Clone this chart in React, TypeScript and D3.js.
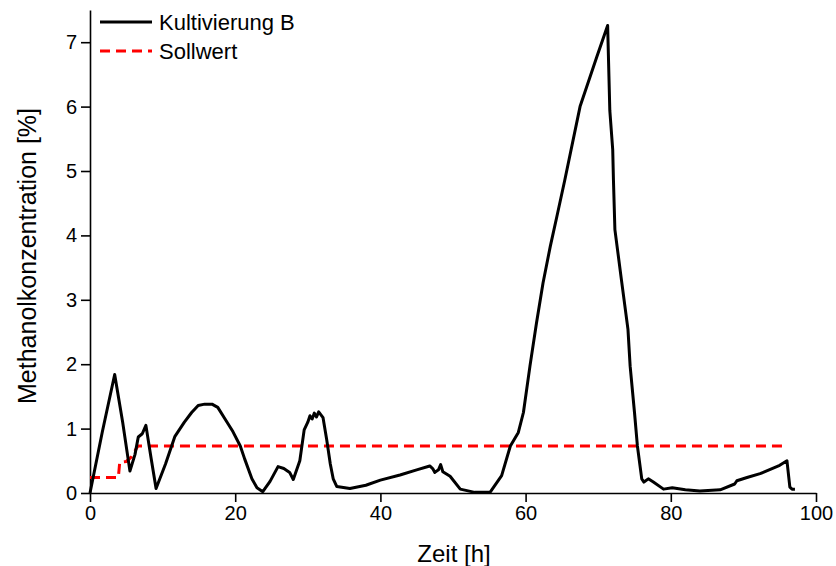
import React, { useEffect, useRef } from 'react';
import * as d3 from 'd3';

// Kultivierung B (time in h, methanol %)
const timeB = [0, 1.7, 3.4, 4.5, 5.5, 6.2, 6.65, 7.2, 7.7, 8.4, 9.1, 10.4, 11.7, 13.0, 14.0, 14.9, 15.8, 16.8, 17.6,
  18.6, 19.7, 20.7, 21.3, 22.3, 23.0, 23.8, 24.8, 25.9, 26.7, 27.5, 28.0, 28.9, 29.5, 30.0, 30.3, 30.6, 30.9,
  31.2, 31.5, 32.1, 32.6, 33.1, 33.5, 34.0, 35.8, 38.0, 40.0, 42.7, 45.0, 46.8, 47.2, 47.5, 48.0, 48.3,
  48.6, 49.6, 51.0, 53.0, 55.1, 56.7, 57.9, 59.0, 59.7, 60.6, 61.5, 62.4, 63.4, 64.3, 65.4, 67.5, 69.8,
  71.3, 71.6, 72.0, 72.1, 72.3, 73.2, 74.1, 74.4, 75.0, 75.4, 76.0, 76.3, 76.9, 77.6, 79.0, 80.2, 82.0,
  84.0, 86.8, 88.8, 89.1, 90.5, 92.3, 95.0, 96.0, 96.4, 96.7, 97.1];
const valueB = [0, 0.95, 1.84, 1.1, 0.34, 0.6, 0.87, 0.92, 1.05, 0.55, 0.07, 0.45, 0.88, 1.1, 1.25, 1.36, 1.38, 1.38, 1.33,
  1.15, 0.95, 0.73, 0.53, 0.22, 0.08, 0.02, 0.18, 0.41, 0.38, 0.32, 0.21, 0.5, 0.98, 1.1, 1.2, 1.15, 1.24,
  1.18, 1.26, 1.17, 0.83, 0.45, 0.22, 0.1, 0.07, 0.12, 0.2, 0.28, 0.36, 0.42, 0.38, 0.32, 0.36, 0.44,
  0.33, 0.26, 0.06, 0.01, 0.01, 0.27, 0.73, 0.94, 1.25, 1.97, 2.64, 3.26, 3.83, 4.29, 4.86, 6.0, 6.77,
  7.26, 5.94, 5.33, 4.86, 4.09, 3.31, 2.54, 1.97, 1.25, 0.73, 0.22, 0.17, 0.22, 0.17, 0.06, 0.08, 0.05,
  0.03, 0.05, 0.14, 0.19, 0.24, 0.3, 0.43, 0.5, 0.09, 0.06, 0.06];

// Sollwert
const timeSoll = [0, 3.9, 4.1, 5.0, 5.7, 6.6, 96.1];
const valueSoll = [0.24, 0.24, 0.48, 0.49, 0.56, 0.73, 0.73];

const xTicks = [0, 20, 40, 60, 80, 100];
const yTicks = [0, 1, 2, 3, 4, 5, 6, 7];
const seriesNames = ['Kultivierung B', 'Sollwert'];

const W = 836;
const H = 566;
const margin = { left: 90, right: 20, top: 10, bottom: 73 };
const font = 'Liberation Sans, Arial, sans-serif';

export default function App() {
  const svgRef = useRef<SVGSVGElement | null>(null);

  useEffect(() => {
    const svg = d3.select(svgRef.current);
    svg.selectAll('*').remove();

    const x = d3.scaleLinear().domain([0, 100]).range([margin.left, 816]);
    const y = d3.scaleLinear().domain([0, 7.5]).range([H - margin.bottom, margin.top]);

    // axes
    const xAxis = svg.append('g').attr('transform', `translate(0,${H - margin.bottom})`);
    xAxis.call(d3.axisBottom(x).tickValues(d3.range(10, 100, 20)).tickSize(5).tickFormat(() => ''));
    xAxis.call(d3.axisBottom(x).tickValues(xTicks).tickSize(9).tickSizeOuter(0).tickPadding(4).tickFormat(d3.format('d')));
    const yAxis = svg.append('g').attr('transform', `translate(${margin.left},0)`);
    yAxis.call(d3.axisLeft(y).tickValues(d3.range(0.5, 7.5, 1)).tickSize(5).tickFormat(() => ''));
    yAxis.call(d3.axisLeft(y).tickValues(yTicks).tickSize(9).tickSizeOuter(0).tickPadding(4).tickFormat(d3.format('d')));

    svg.selectAll('.domain').attr('stroke', '#000').attr('stroke-width', 1.6);
    svg.selectAll('.tick line').attr('stroke', '#000').attr('stroke-width', 1.6);
    svg.selectAll('.tick text').attr('font-family', font).attr('font-size', 20).attr('fill', '#000');

    // axis titles
    svg.append('text')
      .attr('x', 454).attr('y', 562)
      .attr('text-anchor', 'middle').attr('font-family', font).attr('font-size', 24)
      .text('Zeit [h]');
    svg.append('text')
      .attr('transform', `translate(36,256) rotate(-90)`)
      .attr('text-anchor', 'middle').attr('font-family', font).attr('font-size', 25)
      .text('Methanolkonzentration [%]');

    const line = d3.line<number>().x((d, i) => x(d)).curve(d3.curveLinear);

    // Sollwert
    svg.append('path')
      .attr('d', d3.line<number>().x(d => x(d)).y((d, i) => y(valueSoll[i]))(timeSoll))
      .attr('fill', 'none').attr('stroke', '#ff0000').attr('stroke-width', 3)
      .attr('stroke-dasharray', '10,6');

    // Kultivierung B
    svg.append('path')
      .attr('d', line.y((d, i) => y(valueB[i]))(timeB))
      .attr('fill', 'none').attr('stroke', '#000').attr('stroke-width', 3)
      .attr('stroke-linejoin', 'round');

    // legend
    const legend = svg.append('g');
    seriesNames.forEach((name, i) => {
      const ly = 22 + i * 29;
      legend.append('line')
        .attr('x1', 100).attr('x2', 152).attr('y1', ly).attr('y2', ly)
        .attr('stroke', i === 0 ? '#000' : '#ff0000').attr('stroke-width', 3)
        .attr('stroke-dasharray', i === 0 ? null : '10,6');
      legend.append('text')
        .attr('x', 159).attr('y', ly + 8)
        .attr('font-family', font).attr('font-size', 22)
        .text(name);
    });
  }, []);

  return (
    <svg ref={svgRef} width={W} height={H} style={{ position: 'absolute', left: 0, top: 0, background: '#fff' }} />
  );
}
